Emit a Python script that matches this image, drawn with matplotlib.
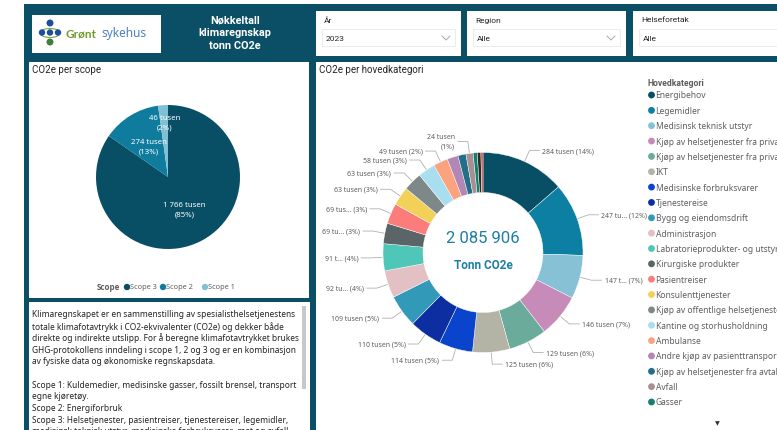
import numpy as np
import matplotlib
matplotlib.use("Agg")
import matplotlib.pyplot as plt
from matplotlib.patches import Rectangle, Circle, Ellipse

# ---- data ----
scope_names = ["Scope 3", "Scope 2", "Scope 1"]
scope_vals = [1766, 274, 46]          # tusen tonn CO2e
scope_colors = ["#084f66", "#0f7c9e", "#80c0d5"]

total_tonn = 2085906

kat_names = [
    "Energibehov", "Legemidler", "Medisinsk teknisk utstyr",
    "Kjøp av helsetjenester fra private i...", "Kjøp av helsetjenester fra private ...",
    "IKT", "Medisinske forbruksvarer", "Tjenestereise", "Bygg og eiendomsdrift",
    "Administrasjon", "Labratorieprodukter- og utstyr", "Kirurgiske produkter",
    "Pasientreiser", "Konsulenttjenester", "Kjøp av offentlige helsetjenester",
    "Kantine og storhusholdning", "Ambulanse", "Andre kjøp av pasienttransport",
    "Kjøp av helsetjenester fra avtalespesialister", "Avfall", "Gasser",
    "Øvrig", "Annet",
]
kat_vals = [284, 247, 147, 146, 129, 125, 114, 110, 109, 92, 91, 69, 69,
            63, 63, 58, 49, 37, 27, 24, 14, 12, 7]
kat_colors = [
    "#084f66", "#0c7fa2", "#86c1d6", "#c68bb8", "#6aab9b", "#b4b4a6",
    "#0b44cc", "#0c2ea0", "#3399b9", "#e2c0c4", "#4ec6b8", "#5b6568",
    "#fa7d7b", "#f3d057", "#7f8888", "#a8def0", "#fba27f", "#b387b5",
    "#236e88", "#a89092", "#12806f", "#2b2b2b", "#d9453a",
]
# label text as shown (None = no label)
kat_label = ["284 tusen", "247 tu...", "147 t...", "146 tusen", "129 tusen",
             "125 tusen", "114 tusen", "110 tusen", "109 tusen", "92 tu...",
             "91 t...", "69 tu...", "69 tus...", "63 tusen", "63 tusen",
             "58 tusen", "49 tusen", None, None, "24 tusen", None, None, None]
legend_count = 21

slicer_titles = ["År", "Region", "Helseforetak"]
slicer_values = ["2023", "Alle", "Alle"]

info_lines = [
    "Klimaregnskapet er en sammenstilling av spesialisthelsetjenestens",
    "totale klimafotavtrykk i CO2-ekvivalenter (CO2e) og dekker både",
    "direkte og indirekte utslipp. For å beregne klimafotavtrykket brukes",
    "GHG-protokollens inndeling i scope 1, 2 og 3 og er en kombinasjon",
    "av fysiske data og økonomiske regnskapsdata.",
    "",
    "Scope 1: Kuldemedier, medisinske gasser, fossilt brensel, transport",
    "egne kjøretøy.",
    "Scope 2: Energiforbruk",
    "Scope 3: Helsetjenester, pasientreiser, tjenestereiser, legemidler,",
    "medisinsk teknisk utstyr, medisinske forbruksvarer, mat og avfall.",
]

DARK = "#0a4f66"
TXT = "#252423"
GREY = "#605e5c"
SEG = ["Noto Sans", "DejaVu Sans"]
DIN = ["Roboto", "DejaVu Sans"]

W, H = 777, 431
fig = plt.figure(figsize=(W / 100, H / 100), dpi=100)
bg = fig.add_axes([0, 0, 1, 1])
bg.set_xlim(0, W)
bg.set_ylim(H, 0)
bg.axis("off")


def rect(x0, y0, x1, y1, fc, ec="none", lw=0, z=1):
    bg.add_patch(Rectangle((x0, y0), x1 - x0, y1 - y0, facecolor=fc,
                           edgecolor=ec, linewidth=lw, zorder=z))


def px_axes(cx, cy, hw, hh):
    return fig.add_axes([(cx - hw) / W, 1 - (cy + hh) / H, 2 * hw / W, 2 * hh / H])


# background and panels
rect(24, 5, W, H, DARK)
rect(29, 63, 309, 299, "white")
rect(29, 303, 310, H, "white")
rect(316, 63, W, H, "white")

# logo
rect(32, 16, 161, 54, "white", z=2)
bg.add_patch(Ellipse((50, 34), 20, 9, fill=False, ec="#7aa83a", lw=0.8, zorder=3))
for (cx, cy, r, c) in [(50, 24, 2.8, "#1f4e9c"), (42, 33.5, 2.5, "#1f4e9c"),
                       (50, 33.5, 2.5, "#1f4e9c"), (58, 33.5, 2.5, "#1f4e9c"),
                       (50, 43, 2.8, "#3f7f3a")]:
    bg.add_patch(Circle((cx, cy), r, color=c, zorder=4))
bg.text(66, 34, "Grønt", color="#6e9a2e", fontsize=8.5, fontweight="bold",
        family=["Lato", "DejaVu Sans"], va="center", ha="left", zorder=5)
bg.text(101, 34, "sykehus", color="#4f7fbf", fontsize=8.5, family=SEG,
        va="center", ha="left", zorder=5)

# header title
bg.text(235, 33, "Nøkkeltall\nklimaregnskap\ntonn CO2e", color="white",
        fontsize=7.8, fontweight="bold", family=DIN, ha="center", va="center",
        linespacing=1.35)

# slicers
slicer_x = [(316, 461), (467, 626), (633, 800)]
for (x0, x1), t, v in zip(slicer_x, slicer_titles, slicer_values):
    rect(x0, 12, x1, 57, "white", z=2)
    rect(x0 + 6, 30, x1 - 6, 47, "white", ec="#e8e8e8", lw=0.6, z=3)
    bg.text(x0 + 8, 20.5, t, fontsize=6, color=TXT, family=DIN, va="center", zorder=4)
    bg.text(x0 + 10, 39, v, fontsize=6, color=TXT, family=DIN, va="center", zorder=4)
    cx = x1 - 15
    bg.plot([cx - 4, cx, cx + 4], [37, 41, 37], color="#999999", lw=0.6, zorder=4)

# panel titles
bg.text(32, 70, "CO2e per scope", fontsize=7, color=TXT, family=DIN, va="center")
bg.text(319, 70, "CO2e per hovedkategori", fontsize=7, color=TXT, family=DIN, va="center")

# ---- scope pie ----
pie_total = sum(scope_vals)
axp = px_axes(168, 178, 90, 90)
axp.pie(scope_vals, colors=scope_colors, startangle=90, counterclock=False,
        radius=1, wedgeprops=dict(linewidth=0))
axp.set_xlim(-1.25, 1.25)
axp.set_ylim(-1.25, 1.25)
axp.set_aspect("equal")
axp.axis("off")
cum = 0
for v in scope_vals:
    a = np.radians(360 * (cum + v / 2) / pie_total)
    d = 0.5 if v / pie_total > 0.05 else 0.76
    axp.text(d * np.sin(a), d * np.cos(a),
             f"{v:,} tusen\n({round(100 * v / pie_total)}%)".replace(",", " "),
             color="white", fontsize=5.6, family=SEG, ha="center", va="center",
             linespacing=1.5)
    cum += v

# pie legend
bg.text(97, 288, "Scope", fontsize=5.8, fontweight="bold", color=GREY,
        family=["Open Sans", "DejaVu Sans"], va="center")
leg_x = [127, 163, 205]
for x, n, c in zip(leg_x, scope_names, scope_colors):
    bg.add_patch(Circle((x, 288), 2.5, color=c, zorder=3))
    bg.text(x + 3.5, 288, n, fontsize=5.3, color=GREY, family=SEG, va="center")

# ---- info text ----
for i, line in enumerate(info_lines):
    bg.text(32, 315 + 11.7 * i, line, fontsize=6.0, color=TXT, family=SEG, va="center")
rect(302, 307, 305.5, 390, "#c8c8c8", z=3)

# ---- donut ----
kat_total = sum(kat_vals)
axd = px_axes(483, 253.5, 160, 160)
axd.pie(kat_vals, colors=kat_colors, startangle=90, counterclock=False, radius=1,
        wedgeprops=dict(width=0.4, edgecolor="white", linewidth=0.3))
axd.set_xlim(-1.6, 1.6)
axd.set_ylim(-1.6, 1.6)
axd.set_aspect("equal")
axd.axis("off")

cum = 0
for v, lab in zip(kat_vals, kat_label):
    a = np.radians(360 * (cum + v / 2) / kat_total)
    cum += v
    if lab is None:
        continue
    pct = round(100 * v / kat_total)
    s, c = np.sin(a), np.cos(a)
    x1, y1 = 1.01 * s, 1.01 * c
    x2, y2 = 1.12 * s, 1.12 * c
    side = 1 if s >= 0 else -1
    x3 = x2 + side * 0.1
    axd.plot([x1, x2, x3], [y1, y2, y2], color="#b0b0b0", lw=0.6, clip_on=False)
    txt = f"{lab}\n({pct}%)" if pct <= 1 else f"{lab} ({pct}%)"
    axd.text(x3 + side * 0.03, y2, txt, fontsize=5.0, color=GREY, family=SEG,
             ha="left" if side > 0 else "right", va="center", clip_on=False,
             multialignment="right", linespacing=1.5)

axd.text(0, 0.145, f"{total_tonn:,}".replace(",", " "), fontsize=12, color="#1c7fa3",
         family=DIN, ha="center", va="center")
axd.text(0, -0.125, "Tonn CO2e", fontsize=8.5, color="#1c7fa3", fontweight="bold",
         family=DIN, ha="center", va="center")

# category legend
bg.text(648, 83, "Hovedkategori", fontsize=6.2, fontweight="bold", color=GREY,
        family=DIN, va="center")
for i in range(legend_count):
    yy = 96 + 15.35 * i
    bg.add_patch(Circle((651.5, yy), 2.7, color=kat_colors[i], zorder=3))
    bg.text(655.5, yy, kat_names[i], fontsize=6.1, color=GREY, family=SEG, va="center")
bg.text(717, 424, "▼", fontsize=4.5, color="#333333", ha="center", va="center",
        family=["DejaVu Sans"])

fig.savefig("out.png", dpi=100)
